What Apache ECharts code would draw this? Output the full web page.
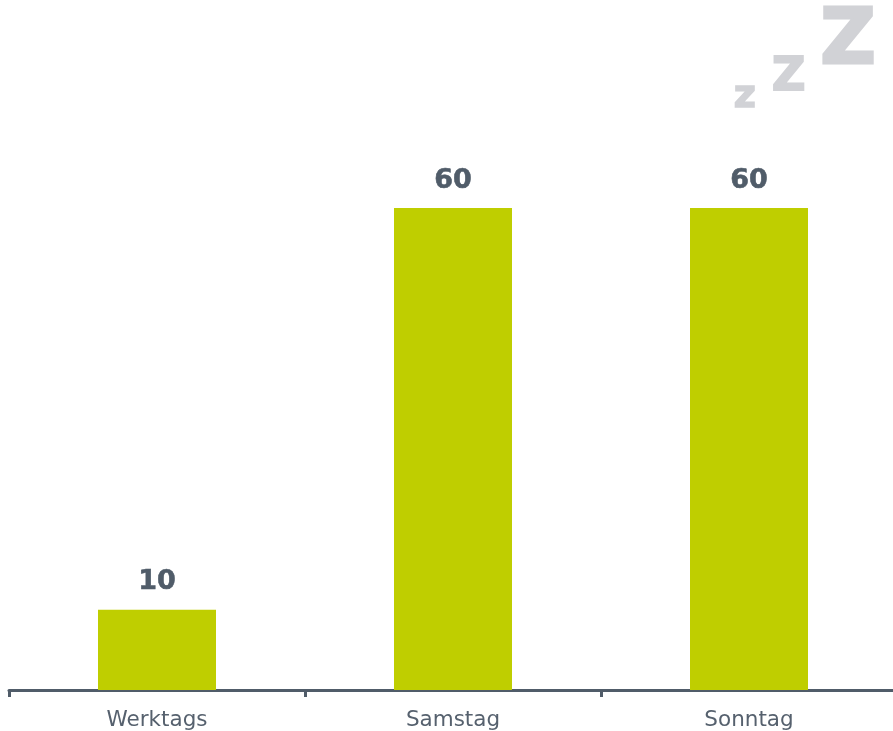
<!DOCTYPE html>
<html><head><meta charset="utf-8"><style>html,body{margin:0;padding:0;background:#fff}#c{width:893px;height:731px}</style>
<script src="https://cdn.jsdelivr.net/npm/echarts@6/dist/echarts.min.js"></script></head>
<body><div id="c"></div><script>
const categories=['Werktags','Samstag','Sonntag'];
const values=[10,60,60];
const sleepLetters=['z','Z','Z'];
const chart=echarts.init(document.getElementById('c'));
const grey='#d1d2d6';
chart.setOption({
 animation:false,
 grid:{left:9,width:888,top:0,height:690,outerBoundsMode:'none'},
 xAxis:{type:'category',data:categories,
  axisLine:{lineStyle:{color:'#505c69',width:3}},
  axisTick:{show:true,length:7,lineStyle:{color:'#505c69',width:3}},
  axisLabel:{color:'#56616e',fontFamily:'DejaVu Sans',fontSize:21.5,margin:19}},
 yAxis:{type:'value',min:0,max:85.9,show:false,splitLine:{show:false}},
 series:[{type:'bar',data:values,barWidth:118,itemStyle:{color:'#bfce00'},
  label:{show:true,position:'top',distance:14,color:'#505c69',fontFamily:'DejaVu Sans',fontWeight:'bold',fontSize:27,textBorderColor:'#505c69',textBorderWidth:0.6}}],
 graphic:[
  {type:'text',left:733,top:77,style:{text:sleepLetters[0],font:'bold 38px "DejaVu Sans"',fill:grey,stroke:grey,lineWidth:1.5}},
  {type:'text',left:771,top:54,style:{text:sleepLetters[1],font:'bold 46px "DejaVu Sans"',fill:grey,stroke:grey,lineWidth:2}},
  {type:'text',left:819,top:4,style:{text:sleepLetters[2],font:'bold 76px "DejaVu Sans"',fill:grey,stroke:grey,lineWidth:3}}
 ]
});
</script></body></html>
